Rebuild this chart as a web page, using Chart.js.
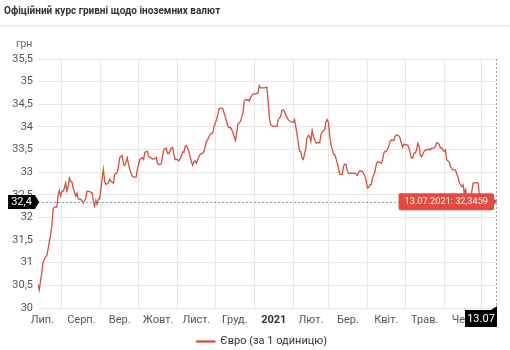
<!DOCTYPE html>
<html lang="uk">
<head>
<meta charset="utf-8">
<title>Офіційний курс гривні щодо іноземних валют</title>
<script src="https://cdn.jsdelivr.net/npm/chart.js@4/dist/chart.umd.min.js"></script>
<style>
  html, body { margin: 0; padding: 0; background: #fff; }
  #wrap { position: relative; width: 510px; height: 350px; overflow: hidden; font-family: Roboto, "Noto Sans", sans-serif; }
  #head {
    position: absolute; left: 0; top: 0; width: 510px; height: 26px;
    border-bottom: 1px solid #e2e2e2; box-shadow: 0 1px 2px rgba(0,0,0,0.05);
    font-size: 10px; font-weight: 700; color: #333; line-height: 22px; padding-left: 4px; box-sizing: border-box;
  }
  #unit { position: absolute; left: 16px; top: 37px; font-size: 10.5px; color: #666; }
  #chart { position: absolute; left: 0; top: 0; }
</style>
</head>
<body>
<div id="wrap">
  <canvas id="chart" width="510" height="350"></canvas>
  <div id="head">Офіційний курс гривні щодо іноземних валют</div>
  <div id="unit">грн</div>
</div>
<script>
// курс євро, грн за 1 одиницю
const dates = [
  "13.07.2020", "14.07.2020", "16.07.2020", "17.07.2020", "19.07.2020", "20.07.2020", "21.07.2020", "23.07.2020",
  "24.07.2020", "25.07.2020", "26.07.2020", "28.07.2020", "29.07.2020", "30.07.2020", "31.07.2020",
  "01.08.2020", "02.08.2020", "03.08.2020", "04.08.2020", "05.08.2020", "06.08.2020", "07.08.2020", "08.08.2020",
  "09.08.2020", "10.08.2020", "12.08.2020", "13.08.2020", "14.08.2020", "16.08.2020", "17.08.2020", "18.08.2020",
  "20.08.2020", "21.08.2020", "23.08.2020", "25.08.2020", "26.08.2020", "27.08.2020", "28.08.2020", "29.08.2020",
  "30.08.2020", "31.08.2020",
  "01.09.2020", "02.09.2020", "03.09.2020", "04.09.2020", "05.09.2020", "07.09.2020", "08.09.2020", "09.09.2020",
  "11.09.2020", "12.09.2020", "14.09.2020", "15.09.2020", "16.09.2020", "18.09.2020", "19.09.2020", "20.09.2020",
  "22.09.2020", "23.09.2020", "24.09.2020", "26.09.2020", "27.09.2020", "29.09.2020", "30.09.2020",
  "01.10.2020", "02.10.2020", "04.10.2020", "05.10.2020", "06.10.2020", "08.10.2020", "09.10.2020", "12.10.2020",
  "14.10.2020", "15.10.2020", "16.10.2020", "17.10.2020", "19.10.2020", "20.10.2020", "21.10.2020", "23.10.2020",
  "24.10.2020", "25.10.2020", "27.10.2020", "28.10.2020", "29.10.2020", "30.10.2020",
  "01.11.2020", "02.11.2020", "04.11.2020", "05.11.2020", "06.11.2020", "07.11.2020", "08.11.2020", "10.11.2020",
  "11.11.2020", "12.11.2020", "13.11.2020", "14.11.2020", "15.11.2020", "16.11.2020", "18.11.2020", "19.11.2020",
  "21.11.2020", "22.11.2020", "24.11.2020", "25.11.2020", "26.11.2020", "27.11.2020", "29.11.2020", "30.11.2020",
  "02.12.2020", "03.12.2020", "04.12.2020", "06.12.2020", "07.12.2020", "08.12.2020", "10.12.2020", "11.12.2020",
  "12.12.2020", "13.12.2020", "14.12.2020", "15.12.2020", "17.12.2020", "18.12.2020", "19.12.2020", "20.12.2020",
  "21.12.2020", "23.12.2020", "24.12.2020", "25.12.2020", "27.12.2020", "28.12.2020", "29.12.2020", "31.12.2020",
  "02.01.2021", "04.01.2021", "05.01.2021", "06.01.2021", "09.01.2021", "11.01.2021", "12.01.2021", "13.01.2021",
  "14.01.2021", "16.01.2021", "18.01.2021", "19.01.2021", "20.01.2021", "22.01.2021", "23.01.2021", "24.01.2021",
  "25.01.2021", "26.01.2021", "27.01.2021", "28.01.2021", "30.01.2021",
  "01.02.2021", "02.02.2021", "03.02.2021", "04.02.2021", "05.02.2021", "06.02.2021", "07.02.2021", "08.02.2021",
  "09.02.2021", "11.02.2021", "12.02.2021", "13.02.2021", "14.02.2021", "15.02.2021", "16.02.2021", "17.02.2021",
  "19.02.2021", "20.02.2021", "22.02.2021", "23.02.2021", "24.02.2021", "26.02.2021", "27.02.2021", "28.02.2021",
  "01.03.2021", "02.03.2021", "03.03.2021", "04.03.2021", "05.03.2021", "06.03.2021", "08.03.2021", "09.03.2021",
  "10.03.2021", "12.03.2021", "13.03.2021", "14.03.2021", "15.03.2021", "16.03.2021", "17.03.2021", "19.03.2021",
  "20.03.2021", "22.03.2021", "24.03.2021", "25.03.2021", "26.03.2021", "28.03.2021", "30.03.2021", "31.03.2021",
  "01.04.2021", "02.04.2021", "03.04.2021", "04.04.2021", "05.04.2021", "07.04.2021", "08.04.2021", "09.04.2021",
  "10.04.2021", "12.04.2021", "13.04.2021", "14.04.2021", "15.04.2021", "16.04.2021", "18.04.2021", "19.04.2021",
  "20.04.2021", "22.04.2021", "23.04.2021", "24.04.2021", "26.04.2021", "27.04.2021", "28.04.2021", "29.04.2021",
  "30.04.2021",
  "02.05.2021", "03.05.2021", "04.05.2021", "06.05.2021", "07.05.2021", "08.05.2021", "09.05.2021", "10.05.2021",
  "11.05.2021", "12.05.2021", "13.05.2021", "14.05.2021", "16.05.2021", "17.05.2021", "18.05.2021", "20.05.2021",
  "21.05.2021", "22.05.2021", "24.05.2021", "25.05.2021", "26.05.2021", "28.05.2021", "29.05.2021", "30.05.2021",
  "31.05.2021",
  "01.06.2021", "02.06.2021", "03.06.2021", "05.06.2021", "06.06.2021", "07.06.2021", "08.06.2021", "10.06.2021",
  "11.06.2021", "12.06.2021", "13.06.2021", "15.06.2021", "16.06.2021", "17.06.2021", "18.06.2021", "19.06.2021",
  "21.06.2021", "22.06.2021", "24.06.2021", "26.06.2021", "28.06.2021", "29.06.2021",
  "01.07.2021", "04.07.2021", "07.07.2021", "10.07.2021", "13.07.2021"
];

const values = [
  30.52, 30.40, 30.78, 31.00, 31.13, 31.15, 31.30, 31.62,
  31.80, 32.18, 32.23, 32.23, 32.50, 32.60, 32.48,
  32.57, 32.58, 32.65, 32.76, 32.58, 32.69, 32.87, 32.80,
  32.78, 32.65, 32.47, 32.54, 32.41, 32.40, 32.36, 32.31,
  32.43, 32.58, 32.57, 32.54, 32.36, 32.25, 32.38, 32.29,
  32.41, 32.41,
  32.62, 32.87, 33.06, 32.80, 32.73, 32.76, 32.85, 32.80,
  32.76, 32.95, 32.99, 33.13, 33.32, 33.37, 33.17, 33.15,
  33.32, 33.17, 33.06, 32.91, 32.89, 32.89, 33.06,
  33.17, 33.28, 33.32, 33.28, 33.44, 33.46, 33.35, 33.29,
  33.30, 33.33, 33.20, 33.17, 33.18, 33.35, 33.50, 33.53,
  33.42, 33.41, 33.53, 33.55, 33.40, 33.28,
  33.28, 33.25, 33.35, 33.45, 33.44, 33.57, 33.59, 33.46,
  33.33, 33.23, 33.15, 33.23, 33.25, 33.20, 33.35, 33.39,
  33.42, 33.46, 33.68, 33.72, 33.79, 33.84, 33.87, 34.01,
  34.16, 34.27, 34.40, 34.42, 34.40, 34.31, 34.12, 34.01,
  33.98, 33.99, 33.94, 33.87, 33.70, 33.87, 34.06, 34.09,
  34.12, 34.31, 34.57, 34.60, 34.60, 34.57, 34.65, 34.73,
  34.73, 34.75, 34.91, 34.86, 34.86, 34.88, 34.57, 34.20,
  34.05, 34.01, 34.01, 34.01, 34.16, 34.23, 34.37, 34.38,
  34.34, 34.26, 34.21, 34.16, 34.11,
  34.10, 34.16, 34.01, 33.83, 33.65, 33.46, 33.45, 33.31,
  33.28, 33.53, 33.76, 33.81, 33.79, 33.68, 33.92, 33.79,
  33.65, 33.65, 33.65, 33.83, 33.89, 33.94, 34.12, 34.16,
  34.09, 33.79, 33.61, 33.50, 33.40, 33.39, 33.20, 33.06,
  32.95, 32.95, 33.13, 33.18, 33.17, 33.03, 32.97, 32.98,
  32.97, 32.98, 32.93, 33.00, 33.03, 33.02, 32.91, 32.81,
  32.65, 32.66, 32.72, 32.73, 32.87, 33.02, 33.17, 33.23,
  33.22, 33.20, 33.27, 33.42, 33.46, 33.46, 33.57, 33.68,
  33.71, 33.70, 33.79, 33.82, 33.80, 33.75, 33.64, 33.55,
  33.62,
  33.60, 33.60, 33.53, 33.31, 33.31, 33.42, 33.42, 33.49,
  33.64, 33.58, 33.38, 33.34, 33.46, 33.49, 33.49, 33.51,
  33.49, 33.53, 33.53, 33.57, 33.65, 33.62, 33.53, 33.54,
  33.49,
  33.46, 33.49, 33.27, 33.23, 33.12, 33.09, 33.05, 33.05,
  32.96, 32.90, 32.77, 32.68, 32.72, 32.53, 32.62, 32.42,
  32.35, 32.40, 32.76, 32.77, 32.76, 32.50,
  32.40, 32.38, 32.36, 32.40, 32.3459
];

const monthStarts = [
  "01.07.2020", "01.08.2020", "01.09.2020", "01.10.2020", "01.11.2020", "01.12.2020", "01.01.2021",
  "01.02.2021", "01.03.2021", "01.04.2021", "01.05.2021", "01.06.2021", "01.07.2021"
];
const monthLabels = ["Лип.", "Серп.", "Вер.", "Жовт.", "Лист.", "Груд.", "2021", "Лют.", "Бер.", "Квіт.", "Трав.", "Чер."];
const yTickValues = [30, 30.5, 31, 31.5, 32, 32.5, 33, 33.5, 34, 34.5, 35, 35.5];

const seriesLabel = "Євро (за 1 одиницю)";
const lineColor = "#d4503f";
const fontFamily = "Roboto, 'Noto Sans', sans-serif";

function dayIndex(s) {
  const p = s.split(".").map(Number);
  const f = dates[0].split(".").map(Number);
  return (Date.UTC(p[2], p[1] - 1, p[0]) - Date.UTC(f[2], f[1] - 1, f[0])) / 86400000;
}

function comma(v, digits) {
  return (digits === undefined ? String(v) : v.toFixed(digits)).replace(".", ",");
}

const points = dates.map((d, i) => ({ x: dayIndex(d), y: values[i] }));
const lastDay = dayIndex(dates[dates.length - 1]);
const gridDays = monthStarts.map(dayIndex).filter((d) => d > 0 && d < lastDay);
const labelDays = monthLabels.map((m, i) => (dayIndex(monthStarts[i]) + dayIndex(monthStarts[i + 1])) / 2);

// легенда трохи лівіше центру області графіка, як в оригіналі
const legendShift = {
  id: "legendShift",
  afterLayout(chart) {
    const lg = chart.legend;
    if (!lg) return;
    lg.left = 27;
    lg.right = chart.chartArea.right;
    lg.width = lg.right - lg.left;
  },
};

// пунктирний приціл на останній точці + мітки на осях
const crosshair = {
  id: "crosshair",
  afterDatasetsDraw(chart) {
    const ctx = chart.ctx;
    const area = chart.chartArea;
    const meta = chart.getDatasetMeta(0);
    const last = meta.data.length - 1;
    const p = meta.data[last];

    ctx.save();
    ctx.strokeStyle = "#9a9a9a";
    ctx.lineWidth = 1;
    ctx.setLineDash([2, 2]);
    ctx.beginPath();
    ctx.moveTo(area.left, Math.round(p.y) + 0.5);
    ctx.lineTo(area.right, Math.round(p.y) + 0.5);
    ctx.moveTo(Math.round(p.x) - 0.5, area.top);
    ctx.lineTo(Math.round(p.x) - 0.5, area.bottom);
    ctx.stroke();
    ctx.setLineDash([]);

    ctx.fillStyle = "#000";
    ctx.font = "11px " + fontFamily;
    ctx.textAlign = "center";
    ctx.textBaseline = "middle";

    // мітка значення на осі Y
    const yy = Math.round(p.y);
    ctx.beginPath();
    ctx.moveTo(8, yy - 7);
    ctx.lineTo(35, yy - 7);
    ctx.lineTo(39, yy);
    ctx.lineTo(35, yy + 7);
    ctx.lineTo(8, yy + 7);
    ctx.closePath();
    ctx.fill();
    ctx.fillStyle = "#fff";
    ctx.fillText(comma(Math.ceil(values[last] * 10) / 10), 21.5, yy + 0.5);

    // мітка дати на осі X
    const xr = Math.round(p.x);
    const top = area.bottom + 2;
    ctx.fillStyle = "#000";
    ctx.beginPath();
    ctx.moveTo(xr - 32, top);
    ctx.lineTo(xr - 6, top);
    ctx.lineTo(xr, top - 4);
    ctx.lineTo(xr, top + 17);
    ctx.lineTo(xr - 32, top + 17);
    ctx.closePath();
    ctx.fill();
    ctx.fillStyle = "#fff";
    ctx.fillText(dates[last].slice(0, 5), xr - 16, top + 9);
    ctx.restore();
  },
};

const ctx = document.getElementById("chart").getContext("2d");
const chart = new Chart(ctx, {
  type: "line",
  data: {
    datasets: [
      {
        label: seriesLabel,
        data: points,
        borderColor: lineColor,
        backgroundColor: lineColor,
        borderWidth: 1.3,
        pointRadius: 0,
        pointHoverRadius: 0,
        tension: 0,
        xAxisID: "x",
        yAxisID: "y",
      },
    ],
  },
  options: {
    responsive: false,
    animation: false,
    events: [],
    layout: { padding: { top: 59, right: 13, bottom: 0, left: 0 } },
    scales: {
      x: {
        type: "linear",
        position: "bottom",
        weight: 0,
        min: 0,
        max: lastDay,
        afterBuildTicks: (s) => { s.ticks = gridDays.map((v) => ({ value: v })); },
        afterFit: (s) => { s.height = 0; },
        ticks: { display: false },
        grid: { color: "#e6e6e6", drawTicks: false },
        border: { display: false },
      },
      xl: {
        type: "linear",
        position: "bottom",
        weight: 1,
        min: 0,
        max: lastDay,
        afterBuildTicks: (s) => { s.ticks = labelDays.map((v) => ({ value: v })); },
        afterFit: (s) => { s.height = 28; },
        ticks: {
          autoSkip: false,
          maxRotation: 0,
          padding: 6,
          color: (c) => (c.index === 6 ? "#333" : "#555"),
          font: (c) => ({ family: fontFamily, size: 11, weight: c.index === 6 ? "bold" : "normal" }),
          callback: (v, i) => monthLabels[i],
        },
        grid: { display: false, drawTicks: false },
        border: { display: false },
      },
      y: {
        type: "linear",
        min: yTickValues[0],
        max: yTickValues[yTickValues.length - 1],
        afterBuildTicks: (s) => { s.ticks = yTickValues.map((v) => ({ value: v })); },
        afterFit: (s) => { s.width = 38; },
        ticks: {
          padding: 5,
          color: "#555",
          font: { family: fontFamily, size: 11 },
          callback: (v) => comma(v),
        },
        grid: { color: "#e6e6e6", drawTicks: false },
        border: { display: false },
      },
    },
    plugins: {
      legend: {
        position: "bottom",
        maxHeight: 14,
        labels: {
          boxWidth: 18,
          boxHeight: 1,
          padding: 0,
          color: "#333",
          font: { family: fontFamily, size: 11 },
        },
      },
      tooltip: {
        backgroundColor: "#e8483d",
        bodyColor: "#fff",
        bodyFont: { family: fontFamily, size: 9.2 },
        displayColors: false,
        xAlign: "right",
        yAlign: "center",
        caretSize: 3,
        caretPadding: 0,
        cornerRadius: 2,
        padding: { left: 6, right: 6, top: 3, bottom: 3 },
        callbacks: {
          title: () => "",
          label: (c) => dates[c.dataIndex] + ": " + comma(c.parsed.y, 4),
        },
      },
    },
  },
  plugins: [legendShift, crosshair],
});

const lastIndex = values.length - 1;
const lastPoint = chart.getDatasetMeta(0).data[lastIndex];
chart.tooltip.setActiveElements([{ datasetIndex: 0, index: lastIndex }], { x: lastPoint.x, y: lastPoint.y });
chart.update();
</script>
</body>
</html>
